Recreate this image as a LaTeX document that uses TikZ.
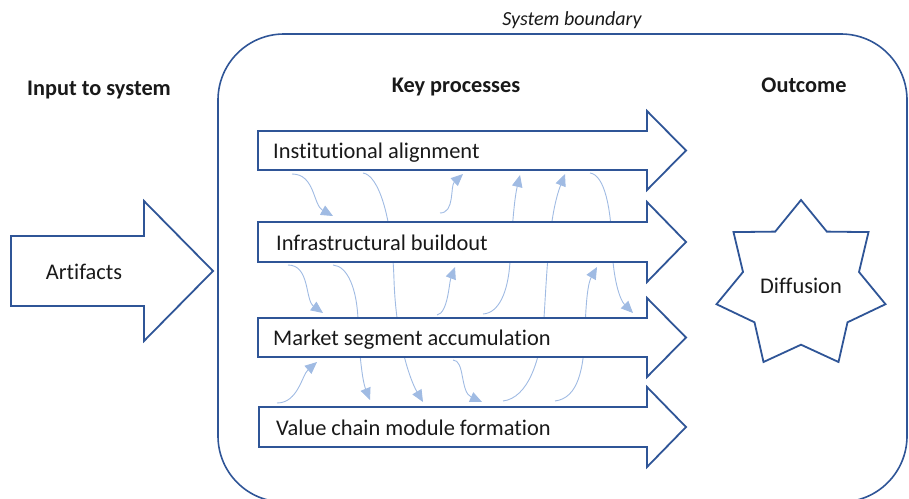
\documentclass[tikz,border=0pt]{standalone}
\usepackage{fontspec}
\setmainfont[Ligatures=NoCommon]{Carlito}
\usetikzlibrary{arrows.meta}
\definecolor{dkblue}{RGB}{47,85,151}
\definecolor{ltblue}{RGB}{160,187,227}
\definecolor{txt}{RGB}{25,25,25}
\begin{document}
\begin{tikzpicture}[x=1pt,y=-1pt,
  bigarrow/.style={draw=dkblue,line width=1.8pt,fill=white,line join=miter},
  flow/.style={draw=ltblue,line width=0.9pt,-{Triangle[length=12pt,width=10.5pt,fill=ltblue]}},
  lbl/.style={font=\fontsize{22.4}{26}\selectfont,inner sep=0pt,text=txt},
  hdr/.style={font=\fontsize{22.3}{26}\selectfont\bfseries,inner sep=0pt,text=txt}]
\useasboundingbox (0,0) rectangle (909,498);

% system boundary
\draw[dkblue,line width=1.6pt,rounded corners=66pt] (218,34) rectangle (907,502);
\node[font=\fontsize{20}{24}\selectfont\itshape,anchor=base,inner sep=0pt,text=txt] (sb) at (572,25) {System boundary};

% headers
\node[hdr,anchor=base] (hin) at (99,95) {Input to system};
\node[hdr,anchor=base] (hkey) at (456,92) {Key processes};
\node[hdr,anchor=base] (hout) at (804,92) {Outcome};

% flow curve end points
\coordinate (f1s) at (292,174);  \coordinate (f1e) at (333,216);
\coordinate (f2s) at (363,173);  \coordinate (f2e) at (423,402);
\coordinate (f3s) at (440,213);  \coordinate (f3e) at (463,174);
\coordinate (f4s) at (483,314);  \coordinate (f4e) at (520,175);
\coordinate (f5s) at (503,401);  \coordinate (f5e) at (565,174);
\coordinate (f6s) at (590,173);  \coordinate (f6e) at (633,313);
\coordinate (f7s) at (288,265);  \coordinate (f7e) at (323,313);
\coordinate (f8s) at (333,265);  \coordinate (f8e) at (370,400);
\coordinate (f9s) at (437,315);  \coordinate (f9e) at (455,267);
\coordinate (f11s) at (555,401); \coordinate (f11e) at (597,267);
\coordinate (f12s) at (277,403); \coordinate (f12e) at (317,362);
\coordinate (f15s) at (453,360); \coordinate (f15e) at (482,402);

% flow curves (behind the process arrows)
\draw[flow] (f1s) .. controls (315,174) and (313,205) .. (f1e);
\draw[flow] (f2s) .. controls (378,175) and (392,215) .. (394,280) .. controls (396,340) and (410,380) .. (f2e);
\draw[flow] (f3s) .. controls (455,213) and (450,186) .. (f3e);
\draw[flow] (f4s) .. controls (499,313) and (508,292) .. (510,262) .. controls (512,230) and (514,200) .. (f4e);
\draw[flow] (f5s) .. controls (528,398) and (541,360) .. (544,318) .. controls (547,270) and (549,215) .. (f5e);
\draw[flow] (f6s) .. controls (605,175) and (611,210) .. (612,245) .. controls (613,280) and (620,300) .. (f6e);
\draw[flow] (f7s) .. controls (310,265) and (305,300) .. (f7e);
\draw[flow] (f8s) .. controls (348,266) and (357,290) .. (358,320) .. controls (359,350) and (362,380) .. (f8e);
\draw[flow] (f9s) .. controls (448,313) and (449,283) .. (f9e);
\draw[flow] (f11s) .. controls (578,398) and (584,370) .. (585,330) .. controls (586,300) and (588,283) .. (f11e);
\draw[flow] (f12s) .. controls (298,403) and (302,375) .. (f12e);
\draw[flow] (f15s) .. controls (465,360) and (460,392) .. (f15e);

% input arrow
\draw[bigarrow] (11,236) -- (144,236) -- (144,201) -- (213,271) -- (144,341) -- (144,306) -- (11,306) -- cycle;
\node[lbl,anchor=base] (art) at (84,279) {Artifacts};

% process arrows
\draw[bigarrow] (258,131) -- (647,131) -- (647,111) -- (686,150.5) -- (647,190) -- (647,170) -- (258,170) -- cycle;
\draw[bigarrow] (258,222) -- (647,222) -- (647,202) -- (686,242) -- (647,282) -- (647,262) -- (258,262) -- cycle;
\draw[bigarrow] (258,318) -- (647,318) -- (647,298) -- (686,337.5) -- (647,377) -- (647,357) -- (258,357) -- cycle;
\draw[bigarrow] (259,407) -- (647,407) -- (647,387) -- (686,427) -- (647,467) -- (647,447) -- (259,447) -- cycle;
\node[lbl,anchor=base west] (p1) at (273,158) {Institutional alignment};
\node[lbl,anchor=base west] (p2) at (276,250.5) {Infrastructural buildout};
\node[lbl,anchor=base west] (p3) at (273,345) {Market segment accumulation};
\node[lbl,anchor=base west] (p4) at (276,435) {Value chain module formation};

% outcome: seven-pointed star
\draw[bigarrow] (801,200) -- (826.8,231.6) -- (868.5,232.1) -- (859,272) -- (885.5,304.2)
  -- (847.5,322.3) -- (838.5,362) -- (801,344.7) -- (763.5,362) -- (754.5,322.3)
  -- (716.5,304.2) -- (743,272) -- (733.5,232.1) -- (775.2,231.6) -- cycle;
\node[lbl] (diff) at (801,285.5) {Diffusion};
\end{tikzpicture}
\end{document}
